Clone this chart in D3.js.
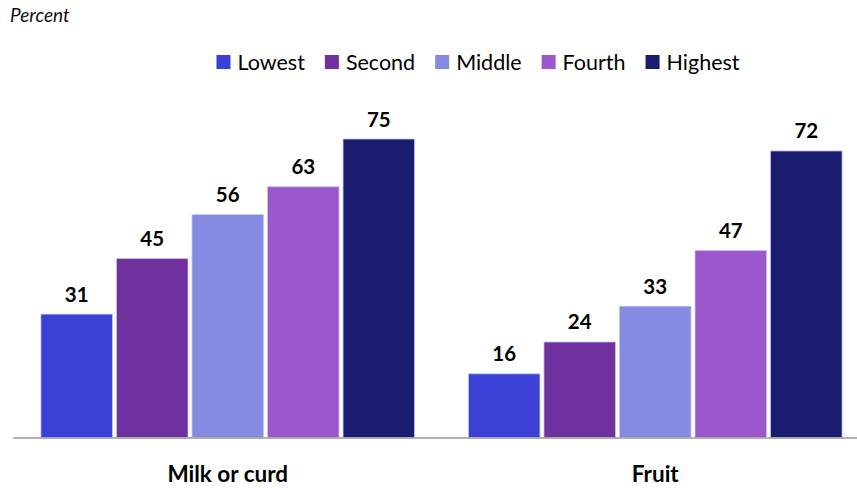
<!DOCTYPE html>
<html><head><meta charset="utf-8">
<script src="https://cdn.jsdelivr.net/npm/d3@7"></script>
<style>body{margin:0;background:#fff}svg{display:block}text{font-family:Lato,"Open Sans",sans-serif}</style>
</head><body><svg id="c" width="857" height="488"></svg>
<script>
const categories = ["Milk or curd", "Fruit"];
const seriesNames = ["Lowest", "Second", "Middle", "Fourth", "Highest"];
const lowest = [31, 16];
const second = [45, 24];
const middle = [56, 33];
const fourth = [63, 47];
const highest = [75, 72];
const seriesValues = [lowest, second, middle, fourth, highest];
const colors = ["#3b41d6", "#70309e", "#858be3", "#9b57cb", "#1a1c70"];
const yLabel = "Percent";

const svg = d3.select("#c");
const W = 857, H = 488;
const baseY = 437.5;
const x0 = d3.scaleBand().domain(categories).range([14, 869]).paddingInner(0.126).paddingOuter(0.063);
const x1 = d3.scaleBand().domain(seriesNames).range([0, x0.bandwidth()]).paddingInner(0.053).paddingOuter(0);
const y = d3.scaleLinear().domain([0, 100]).range([baseY, baseY - 398]);
const color = d3.scaleOrdinal().domain(seriesNames).range(colors);

const rows = categories.map((c, i) => ({cat: c, vals: seriesNames.map((s, j) => ({s, v: seriesValues[j][i]}))}));

const g = svg.selectAll("g.grp").data(rows).join("g").attr("class", "grp")
  .attr("transform", d => `translate(${x0(d.cat)},0)`);
g.selectAll("rect").data(d => d.vals).join("rect")
  .attr("x", d => x1(d.s)).attr("width", x1.bandwidth())
  .attr("y", d => y(d.v)).attr("height", d => y(0) - y(d.v))
  .attr("fill", d => color(d.s)).attr("stroke", "#c3c6ef").attr("stroke-width", 0.8);
g.selectAll("text.val").data(d => d.vals).join("text").attr("class", "val")
  .attr("x", d => x1(d.s) + x1.bandwidth() / 2).attr("y", d => y(d.v) - 12.5)
  .attr("text-anchor", "middle").attr("font-weight", "bold").attr("font-size", 20.5)
  .attr("fill", "#000").text(d => d.v);

// x axis
const xAxis = d3.axisBottom(x0).tickSize(0).tickPadding(29);
const ax = svg.append("g").attr("transform", `translate(0,${baseY})`).call(xAxis);
ax.select(".domain").remove();
ax.selectAll("text").attr("font-size", 22.5).attr("font-weight", "bold").attr("fill", "#000")
  .style("font-family", "Lato, sans-serif");
svg.append("line").attr("x1", 13).attr("x2", W).attr("y1", baseY + 0.5).attr("y2", baseY + 0.5)
  .attr("stroke", "#9a9a9a").attr("stroke-width", 1.5);

// y label
svg.append("text").attr("x", 10).attr("y", 22).attr("font-style", "italic").attr("font-size", 19)
  .attr("fill", "#111").text(yLabel);

// legend
const leg = svg.append("g");
let cx = 0;
seriesNames.forEach((s, i) => {
  const it = leg.append("g").attr("transform", `translate(${cx},0)`);
  it.append("rect").attr("x", 0).attr("y", 55).attr("width", 14).attr("height", 14).attr("fill", color(s));
  const t = it.append("text").attr("x", 21).attr("y", 69.5).attr("font-size", 21.5).attr("fill", "#000").text(s);
  const w = t.node().getComputedTextLength();
  cx += 21 + w + 20;
});
const total = cx - 20;
leg.attr("transform", `translate(${478 - total / 2},0)`);
</script></body></html>
